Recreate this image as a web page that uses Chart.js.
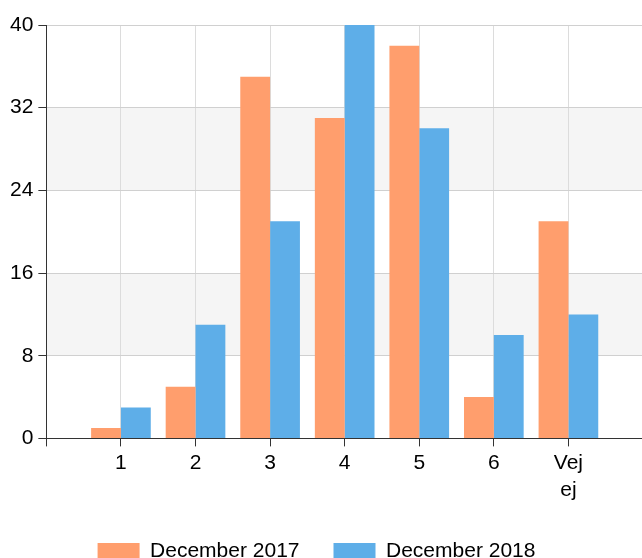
<!DOCTYPE html>
<html>
<head>
<meta charset="utf-8">
<script src="https://cdn.jsdelivr.net/npm/chart.js@4.4.1/dist/chart.umd.min.js"></script>
<style>
  html, body { margin: 0; padding: 0; background: #fff; overflow: hidden; }
  #wrap { width: 642px; height: 558px; overflow: hidden; position: relative; }
  #box { position: absolute; left: 0; top: 0; width: 646px; height: 572px; }
</style>
</head>
<body>
<div id="wrap"><div id="box"><canvas id="chart"></canvas></div></div>
<script>
// kategorier og serier
const categories = ['1', '2', '3', '4', '5', '6', ['Vej', 'ej']];
const dec2017 = [1, 5, 35, 31, 38, 4, 21];
const dec2018 = [3, 11, 21, 40, 30, 10, 12];
const seriesNames = ['December 2017', 'December 2018'];
const yTicks = [0, 8, 16, 24, 32, 40];
const shadedBands = [[8, 16], [24, 32]];

// tom plads før første kategori og efter sidste
const labels = [''].concat(categories, ['']);
const pad = arr => [null].concat(arr, [null]);

const bandPlugin = {
  id: 'bands',
  beforeDraw(chart) {
    const { ctx, chartArea, scales } = chart;
    ctx.save();
    ctx.fillStyle = '#f5f5f5';
    shadedBands.forEach(([lo, hi]) => {
      const y1 = scales.y.getPixelForValue(hi);
      const y2 = scales.y.getPixelForValue(lo);
      ctx.fillRect(chartArea.left, y1, chartArea.right - chartArea.left, y2 - y1);
    });
    ctx.restore();
  }
};

// legenden sidder lidt til venstre for midten i originalen
const legendShift = {
  id: 'legendShift',
  afterLayout(chart) {
    chart.legend.left -= 9;
    chart.legend.right -= 9;
  }
};

const font = { family: '"Liberation Sans", Arial, sans-serif', size: 21, lineHeight: 1.3 };

new Chart(document.getElementById('chart').getContext('2d'), {
  type: 'bar',
  data: {
    labels: labels,
    datasets: [{
      label: seriesNames[0],
      data: pad(dec2017),
      backgroundColor: '#ff9e6d'
    }, {
      label: seriesNames[1],
      data: pad(dec2018),
      backgroundColor: '#5eaee8'
    }]
  },
  options: {
    responsive: true,
    maintainAspectRatio: false,
    animation: false,
    devicePixelRatio: 1,
    layout: { padding: { top: 25, left: 5, right: 0, bottom: 0 } },
    datasets: { bar: { categoryPercentage: 0.8, barPercentage: 1.0 } },
    plugins: {
      tooltip: { enabled: false },
      legend: {
        position: 'bottom',
        labels: {
          color: '#000',
          font: { family: font.family, size: 21 },
          boxWidth: 42,
          boxHeight: 17,
          padding: 34
        }
      }
    },
    scales: {
      x: {
        offset: false,
        grid: { offset: false, color: '#dcdcdc', tickColor: '#333', tickLength: 8 },
        border: { color: '#333' },
        ticks: { color: '#000', font: font, maxRotation: 0, autoSkip: false, padding: 3 }
      },
      y: {
        min: 0,
        max: 40,
        afterBuildTicks: axis => { axis.ticks = yTicks.map(v => ({ value: v })); },
        grid: { color: '#d0d0d0', tickColor: '#333', tickLength: 8 },
        border: { color: '#333' },
        ticks: { color: '#000', font: { family: font.family, size: 21 }, padding: 5 }
      }
    }
  },
  plugins: [bandPlugin, legendShift]
});
</script>
</body>
</html>
